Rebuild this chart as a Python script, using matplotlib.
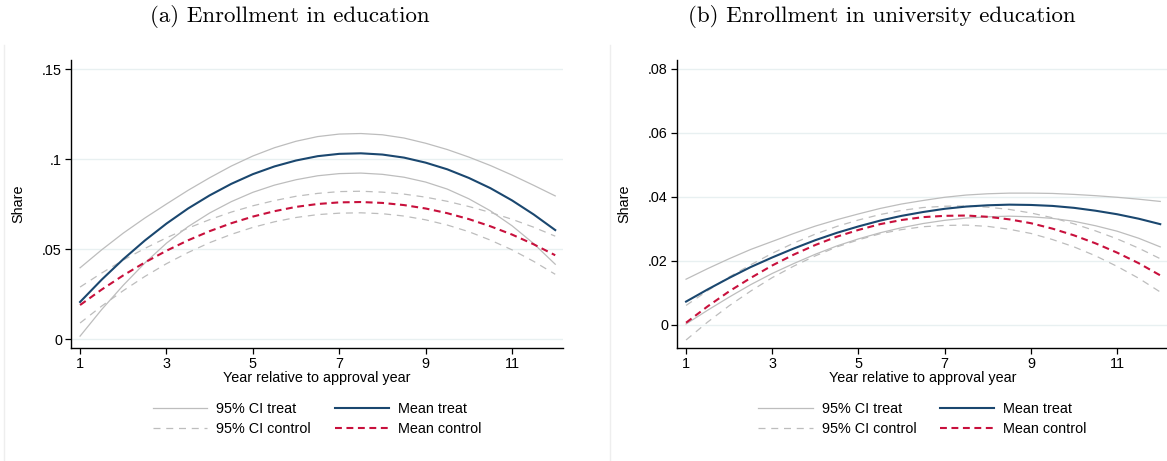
import matplotlib
matplotlib.use("Agg")
import matplotlib.pyplot as plt
from matplotlib.lines import Line2D

plt.rcParams["font.family"] = ["Liberation Sans", "DejaVu Sans"]

# years since approval (read every half year)
years = [1, 1.5, 2, 2.5, 3, 3.5, 4, 4.5, 5, 5.5, 6, 6.5, 7, 7.5, 8, 8.5, 9, 9.5, 10, 10.5, 11, 11.5, 12]

# (a) enrollment in education
a_treat_mean = [.0206, .0330, .0444, .0548, .0642, .0726, .0799, .0863, .0917, .0960, .0993, .1017,
                .1030, .1033, .1026, .1009, .0981, .0944, .0896, .0839, .0771, .0693, .0606]
a_treat_hi = [.0396, .0496, .0589, .0673, .0751, .0827, .0897, .0962, .1018, .1064, .1100, .1126,
              .1140, .1143, .1136, .1118, .1089, .1054, .1012, .0965, .0912, .0855, .0796]
a_treat_lo = [.0016, .0164, .0299, .0423, .0533, .0625, .0701, .0764, .0816, .0856, .0886, .0908,
              .0920, .0923, .0916, .0900, .0873, .0834, .0780, .0713, .0630, .0531, .0416]
a_ctrl_mean = [.0189, .0275, .0354, .0426, .0491, .0549, .0600, .0644, .0681, .0711, .0735, .0751,
               .0760, .0762, .0757, .0745, .0726, .0700, .0667, .0627, .0581, .0527, .0466]
a_ctrl_hi = [.0289, .0367, .0439, .0504, .0563, .0617, .0664, .0706, .0741, .0770, .0794, .0810,
             .0820, .0822, .0817, .0806, .0789, .0766, .0737, .0704, .0666, .0622, .0572]
a_ctrl_lo = [.0089, .0183, .0269, .0348, .0419, .0481, .0536, .0582, .0621, .0652, .0676, .0692,
             .0700, .0702, .0697, .0684, .0663, .0634, .0597, .0550, .0496, .0432, .0360]

# (b) enrollment in university education
b_treat_mean = [.0073, .0111, .0147, .0181, .0211, .0239, .0265, .0288, .0308, .0326, .0341, .0353,
                .0363, .0370, .0374, .0376, .0375, .0372, .0366, .0357, .0346, .0332, .0315]
b_treat_hi = [.0143, .0176, .0207, .0236, .0261, .0286, .0309, .0329, .0347, .0364, .0378, .0389,
              .0399, .0406, .0410, .0412, .0412, .0411, .0408, .0404, .0399, .0393, .0386]
b_treat_lo = [.0003, .0046, .0087, .0126, .0161, .0192, .0221, .0247, .0269, .0288, .0304, .0317,
              .0327, .0334, .0338, .0340, .0338, .0333, .0324, .0310, .0293, .0271, .0244]
b_ctrl_mean = [.0007, .0058, .0105, .0147, .0186, .0220, .0250, .0276, .0297, .0315, .0328, .0337,
               .0341, .0342, .0338, .0330, .0318, .0301, .0280, .0255, .0226, .0193, .0155]
b_ctrl_hi = [.0061, .0107, .0150, .0188, .0224, .0256, .0284, .0308, .0328, .0345, .0358, .0367,
             .0371, .0372, .0368, .0361, .0350, .0335, .0316, .0294, .0269, .0240, .0207]
b_ctrl_lo = [-.0047, .0009, .0060, .0106, .0148, .0184, .0216, .0244, .0266, .0285, .0298, .0307,
             .0311, .0312, .0308, .0299, .0286, .0267, .0244, .0216, .0183, .0146, .0103]

x_ticks = [1, 3, 5, 7, 9, 11]
a_yticks = [0, .05, .1, .15]
a_ylabels = ["0", ".05", ".1", ".15"]
b_yticks = [0, .02, .04, .06, .08]
b_ylabels = ["0", ".02", ".04", ".06", ".08"]

NAVY = "#1a476f"
RED = "#c8103c"
GRAY = "#bdbdbd"
GRID = "#e8f0f1"
FS = 10.4

W, H = 1167, 461
fig = plt.figure(figsize=(W / 100, H / 100), dpi=100)


def panel(rect, tm, th, tl, cm, ch, cl, yticks, ylabels, ylim):
    ax = fig.add_axes(rect)
    ax.plot(years, th, color=GRAY, lw=0.9, label="95% CI treat")
    ax.plot(years, tl, color=GRAY, lw=0.9)
    ax.plot(years, ch, color=GRAY, lw=0.9, ls=(0, (5.6, 4.6)), label="95% CI control")
    ax.plot(years, cl, color=GRAY, lw=0.9, ls=(0, (5.6, 4.6)))
    ax.plot(years, tm, color=NAVY, lw=1.5, label="Mean treat")
    ax.plot(years, cm, color=RED, lw=1.5, ls=(0, (3.3, 2.2)), label="Mean control")

    ax.set_xlim(0.79, 12.18)
    ax.set_ylim(*ylim)
    ax.set_xticks(x_ticks)
    ax.set_yticks(yticks, ylabels)
    ax.tick_params(labelsize=FS, length=4.5, width=0.9, pad=2)
    for y in yticks:
        ax.axhline(y, color=GRID, lw=1.0, zorder=0)
    for s in ["top", "right"]:
        ax.spines[s].set_visible(False)
    ax.spines["left"].set_linewidth(1.0)
    ax.spines["bottom"].set_linewidth(1.0)

    ax.set_ylabel("Share", fontsize=FS)
    ax.yaxis.set_label_coords(-0.093, 0.5)
    ax.set_xlabel("Year relative to approval year", fontsize=FS)
    ax.xaxis.set_label_coords(0.5, -0.104)
    ax.xaxis.label.set_va("center")

    ax.legend(loc="center", bbox_to_anchor=(0.5, -0.2465), ncol=2, frameon=False,
              fontsize=FS, handlelength=3.75, handletextpad=0.62, columnspacing=1.65,
              labelspacing=0.45)
    return ax


panel([71 / W, 113 / H, 492 / W, 288 / H], a_treat_mean, a_treat_hi, a_treat_lo,
      a_ctrl_mean, a_ctrl_hi, a_ctrl_lo, a_yticks, a_ylabels, (-0.005, 0.1552))
panel([677 / W, 113 / H, 491 / W, 288 / H], b_treat_mean, b_treat_hi, b_treat_lo,
      b_ctrl_mean, b_ctrl_hi, b_ctrl_lo, b_yticks, b_ylabels, (-0.0072, 0.0828))

fig.text(290 / W, 1 - 17 / H, "(a) Enrollment in education", family="cmr10",
         fontsize=16.5, ha="center", va="center")
fig.text(882 / W, 1 - 17 / H, "(b) Enrollment in university education", family="cmr10",
         fontsize=16.5, ha="center", va="center")

# faint panel edges
for px in (4, 610):
    fig.add_artist(Line2D([px / W, px / W], [0, 1 - 45 / H], color="#eeeeee", lw=1.0))

fig.savefig("out.png", dpi=100)
